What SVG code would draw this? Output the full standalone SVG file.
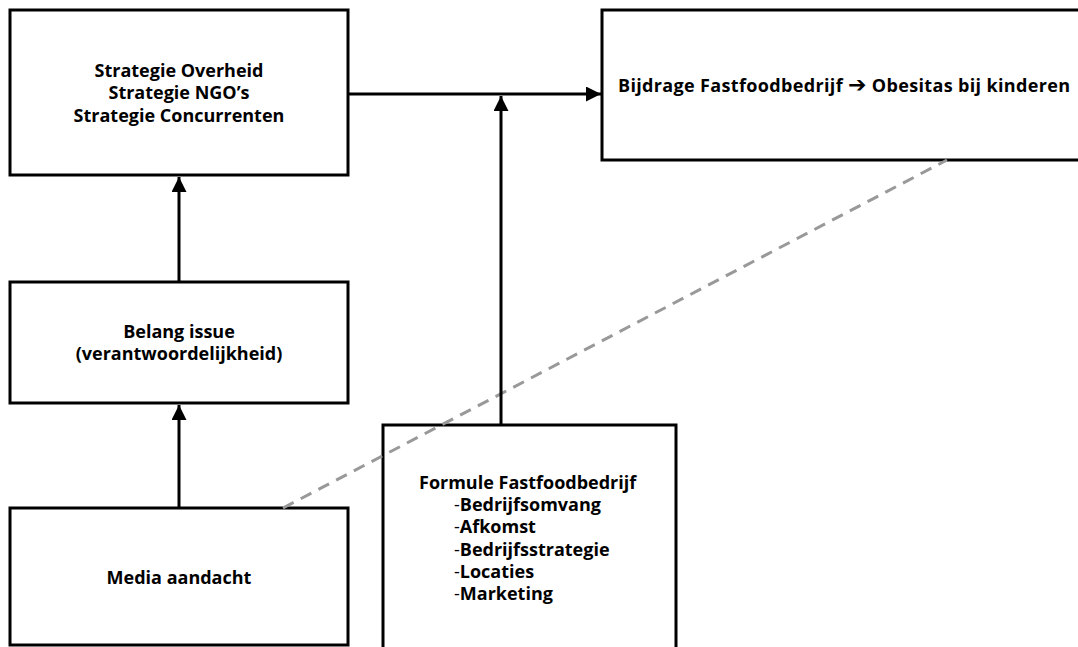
<svg xmlns="http://www.w3.org/2000/svg" width="1078" height="647" viewBox="0 0 1078 647">
<style>
.box{fill:#fff;stroke:#000;stroke-width:3}
.t{font-family:"Open Sans","Liberation Sans",sans-serif;font-weight:bold;font-size:18px;fill:#000}
.c{text-anchor:middle}
.ln{stroke:#000;stroke-width:3;fill:none}
.dash{stroke:#999;stroke-width:3;fill:none;stroke-dasharray:12,8}
</style>
<defs>
<marker id="ah" viewBox="0 0 10 10" refX="10" refY="5" markerWidth="5" markerHeight="5" markerUnits="strokeWidth" orient="auto">
<path d="M0,0 L10,5 L0,10 z" fill="#000"/>
</marker>
</defs>
<g id="n-strategie">
<rect class="box" x="10" y="10" width="338" height="165"/>
<text class="t c" x="179" y="77">Strategie Overheid</text>
<text class="t c" x="179" y="99">Strategie NGO’s</text>
<text class="t c" x="179" y="122">Strategie Concurrenten</text>
</g>
<g id="n-bijdrage">
<rect class="box" x="602" y="10" width="490" height="150"/>
<text class="t" x="618" y="92" textLength="452" lengthAdjust="spacing">Bijdrage Fastfoodbedrijf <tspan font-family="DejaVu Sans" font-size="22">➔</tspan> Obesitas bij kinderen</text>
</g>
<g id="n-belang">
<rect class="box" x="10" y="282" width="338" height="121"/>
<text class="t c" x="179" y="338">Belang issue</text>
<text class="t c" x="179" y="360">(verantwoordelijkheid)</text>
</g>
<g id="n-media">
<rect class="box" x="10" y="508" width="338" height="137"/>
<text class="t c" x="179" y="584">Media aandacht</text>
</g>
<g id="n-formule">
<rect class="box" x="383" y="425" width="293" height="240"/>
<text class="t" x="419" y="489">Formule Fastfoodbedrijf</text>
<text class="t" x="454" y="511"><tspan font-weight="normal">-</tspan>Bedrijfsomvang</text>
<text class="t" x="454" y="533"><tspan font-weight="normal">-</tspan>Afkomst</text>
<text class="t" x="454" y="556"><tspan font-weight="normal">-</tspan>Bedrijfsstrategie</text>
<text class="t" x="454" y="578"><tspan font-weight="normal">-</tspan>Locaties</text>
<text class="t" x="454" y="600"><tspan font-weight="normal">-</tspan>Marketing</text>
</g>
<g id="connectors">
<line class="dash" x1="283" y1="508" x2="947" y2="160"/>
<line class="ln" x1="348" y1="94" x2="601" y2="94" marker-end="url(#ah)"/>
<line class="ln" x1="501" y1="424" x2="501" y2="96" marker-end="url(#ah)"/>
<line class="ln" x1="179" y1="282" x2="179" y2="177" marker-end="url(#ah)"/>
<line class="ln" x1="179" y1="508" x2="179" y2="405" marker-end="url(#ah)"/>
</g>
</svg>
